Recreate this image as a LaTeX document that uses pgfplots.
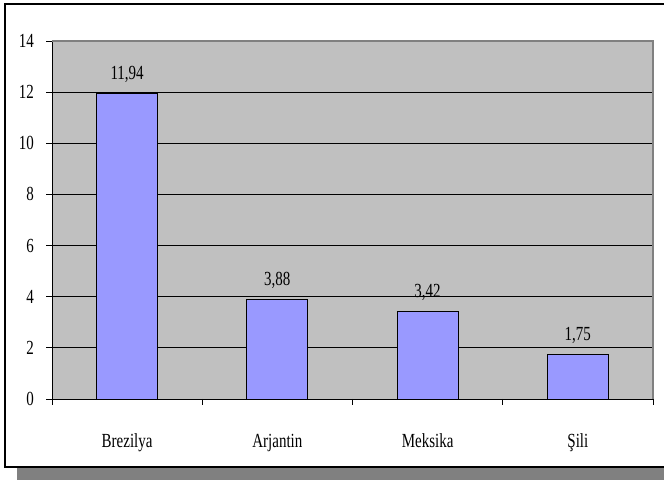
\documentclass[border=0pt]{standalone}
\usepackage{fontspec}
\setmainfont{Liberation Serif}[FakeStretch=0.75]
\usepackage{pgfplots}
\pgfplotsset{compat=1.18}
\definecolor{barc}{HTML}{9999FF}
\definecolor{plotbg}{HTML}{C0C0C0}
\definecolor{bordc}{HTML}{808080}
\begin{document}
\begin{tikzpicture}[x=1pt,y=1pt]
\clip (0,0) rectangle (332,240);
\fill[bordc] (8.5,0) rectangle (340,6);
\draw[line width=1pt, fill=white] (2.5,6.5) rectangle (345,238);
\begin{axis}[
  at={(26pt,40.5pt)}, anchor=south west,
  scale only axis, width=300.5pt, height=179pt,
  xmin=-0.5, xmax=3.5, ymin=0, ymax=14,
  ytick={0,2,...,14},
  xtick={0,1,2,3},
  xticklabels={Brezilya, Arjantin, Meksika, Şili},
  x tick style={draw=none},
  y tick style={black, thin},
  tick align=outside,
  major tick length=3pt,
  axis x line*=bottom, axis y line*=left,
  axis line style={black, thin, -},
  axis background/.style={fill=plotbg},
  ymajorgrids, grid style={black, thin},
  /pgf/number format/assume math mode=true,
  yticklabel style={xshift=-2.5pt},
  xticklabel style={yshift=-11pt},
  nodes near coords,
  nodes near coords style={anchor=south, yshift=2pt, black,
    /pgf/number format/.cd, use comma, fixed, fixed zerofill, precision=2, assume math mode=true},
  clip=false,
]
\addplot[ybar, bar width=30.5pt, fill=barc, draw=black, thin] coordinates {(0,11.94) (1,3.88) (2,3.42) (3,1.75)};
\draw[bordc, line width=0.8pt] (rel axis cs:0,1) -- (rel axis cs:1,1) -- (rel axis cs:1,0);
\pgfplotsinvokeforeach{-0.5,0.5,1.5,2.5,3.5}{\draw[black, thin] (axis cs:#1,0) -- ([yshift=-3pt]axis cs:#1,0);}
\end{axis}
\end{tikzpicture}
\end{document}
